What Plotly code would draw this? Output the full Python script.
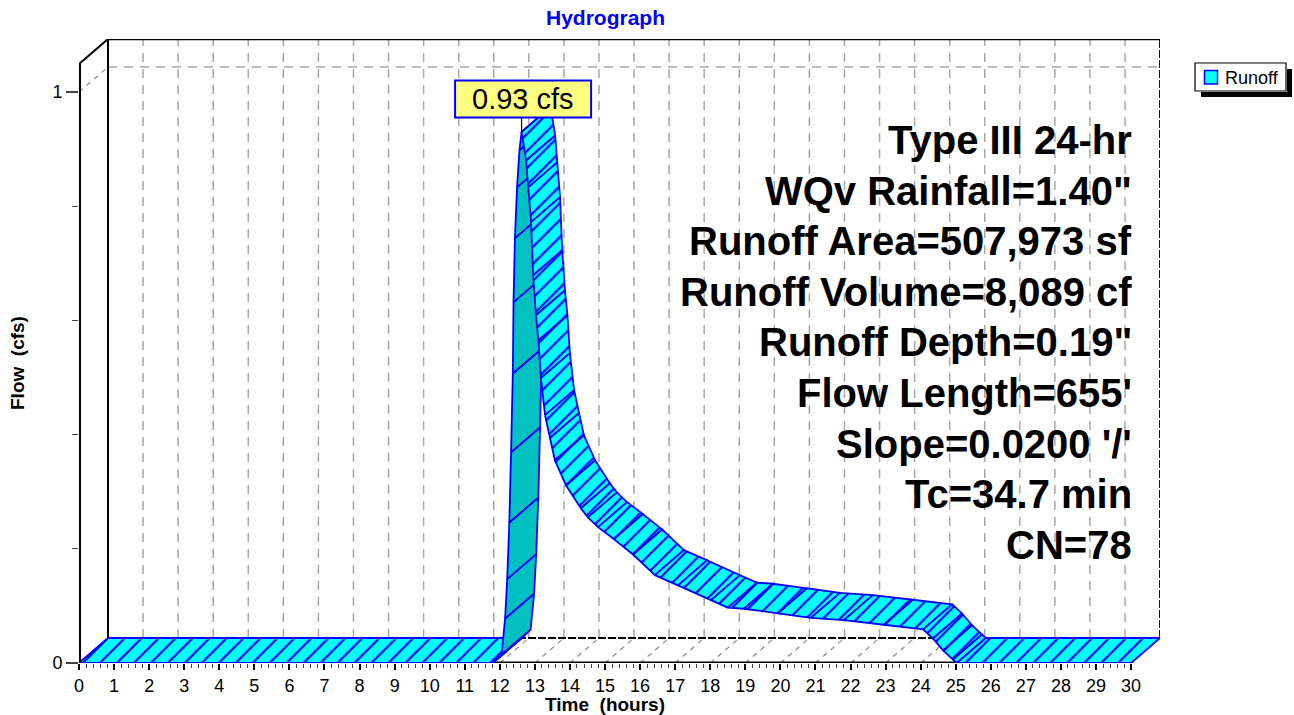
import plotly.graph_objects as go

# ---------------- data ----------------
time_hr = [0.0, 11.80, 12.05, 12.15, 12.21, 12.27, 12.32, 12.37, 12.39, 12.43, 12.49, 12.56, 12.62,
           12.75, 12.81, 12.89, 12.95, 13.03, 13.10, 13.17, 13.29, 13.43, 13.57, 13.89, 14.31,
           14.51, 14.80, 15.25, 15.80, 16.42, 17.08, 18.02, 18.50, 18.96, 19.93, 20.87, 21.81,
           22.95, 24.07, 24.35, 24.64, 24.92, 25.03, 30.0]
flow_cfs = [0.0, 0.0, 0.015, 0.078, 0.147, 0.246, 0.369, 0.507, 0.632, 0.744, 0.833, 0.898, 0.930,
            0.880, 0.833, 0.772, 0.679, 0.609, 0.565, 0.499, 0.434, 0.394, 0.355, 0.311, 0.271,
            0.255, 0.238, 0.217, 0.190, 0.154, 0.136, 0.110, 0.097, 0.095, 0.087, 0.079, 0.075,
            0.067, 0.059, 0.043, 0.022, 0.006, 0.0, 0.0]
x_ticks = list(range(0, 31))
y_ticks = [0, 1]
y_minor = [0.2, 0.4, 0.6, 0.8]
peak_label = "0.93 cfs"
series_name = "Runoff"
info_lines = ["Type III 24-hr", "WQv Rainfall=1.40\"", "Runoff Area=507,973 sf",
              "Runoff Volume=8,089 cf", "Runoff Depth=0.19\"", "Flow Length=655'",
              "Slope=0.0200 '/'", "Tc=34.7 min", "CN=78"]

# ---------------- geometry ----------------
W, H = 1294, 715
ML, MR, MT, MB = 79, 134, 39, 52
PW, PH = W - ML - MR, H - MT - MB
PX_HR = 35.07
PX_CFS = 571.0
XMAX = PW / PX_HR
YMAX = PH / PX_CFS
DX = 29 / PX_HR      # depth offset (hours)
DY = 25 / PX_CFS     # depth offset (cfs)
X_END = 30.0

FONT = "Arial, Liberation Sans, sans-serif"
CYAN = "#00FFFF"
DARK = "#00C0C0"
BLUE = "#0000FF"
GRID = "#A8A8A8"


def pxx(px):
    return (px - ML) / PW


def pxy(py):
    return (H - MB - py) / PH


fig = go.Figure()

# ---------------- ribbon ----------------
for i in range(len(time_hr) - 1):
    t0, t1 = time_hr[i], time_hr[i + 1]
    v0, v1 = flow_cfs[i], flow_cfs[i + 1]
    xs = [t0, t1, t1 + DX, t0 + DX, t0]
    ys = [v0, v1, v1 + DY, v0 + DY, v0]
    sx, sy = (t1 - t0) * PX_HR, -(v1 - v0) * PX_CFS
    cross = sx * (-25) - sy * 29
    if cross > 0:
        fig.add_trace(go.Scatter(x=xs, y=ys, mode="lines", fill="toself", fillcolor=DARK,
                                 line=dict(color=BLUE, width=1.8), hoverinfo="skip",
                                 showlegend=False))
    else:
        fig.add_trace(go.Scatter(x=xs, y=ys, mode="lines", fill="toself", fillcolor=CYAN,
                                 fillpattern=dict(shape="/", size=12, solidity=0.18,
                                                  fgcolor=BLUE, bgcolor=CYAN, fillmode="replace"),
                                 line=dict(color=BLUE, width=1.8), hoverinfo="skip",
                                 showlegend=False))

shapes = []
for h in x_ticks[1:-1]:
    shapes.append(dict(type="line", xref="x", yref="y", x0=h + DX, x1=h + DX, y0=DY, y1=YMAX,
                       line=dict(color=GRID, width=1.5, dash="9px,7px"), layer="below"))
for h in x_ticks[1:]:
    shapes.append(dict(type="line", xref="x", yref="y", x0=h, x1=h + DX, y0=0, y1=DY,
                       line=dict(color="#8C8C8C", width=1.2, dash="5px,5px"), layer="below"))
for yv in y_ticks[1:]:
    shapes.append(dict(type="line", xref="x", yref="y", x0=DX, x1=X_END + DX, y0=yv + DY, y1=yv + DY,
                       line=dict(color=GRID, width=1.5, dash="9px,7px"), layer="below"))
    shapes.append(dict(type="line", xref="x", yref="y", x0=0, x1=DX, y0=yv, y1=yv + DY,
                       line=dict(color="#8C8C8C", width=1.2, dash="5px,5px"), layer="below"))
# back frame
shapes.append(dict(type="line", xref="x", yref="y", x0=DX, x1=DX, y0=DY, y1=YMAX,
                   line=dict(color="black", width=2), layer="below"))
shapes.append(dict(type="line", xref="x", yref="y", x0=DX, x1=X_END + DX, y0=YMAX, y1=YMAX,
                   line=dict(color="black", width=2.5), layer="below"))
shapes.append(dict(type="line", xref="x", yref="y", x0=X_END + DX, x1=X_END + DX, y0=DY, y1=YMAX,
                   line=dict(color="black", width=2, dash="8px,2px"), layer="below"))
shapes.append(dict(type="line", xref="x", yref="y", x0=DX, x1=X_END + DX, y0=DY, y1=DY,
                   line=dict(color="black", width=2, dash="8px,2px"), layer="below"))
shapes.append(dict(type="line", xref="x", yref="y", x0=0, x1=DX, y0=YMAX - DY, y1=YMAX,
                   line=dict(color="black", width=2), layer="below"))
# front axes
shapes.append(dict(type="line", xref="x", yref="y", x0=0, x1=0, y0=0, y1=YMAX - DY,
                   line=dict(color="black", width=4), layer="above"))
shapes.append(dict(type="line", xref="x", yref="y", x0=0, x1=X_END, y0=0, y1=0,
                   line=dict(color="black", width=3), layer="below"))

# peak label
ipk = max(range(len(flow_cfs)), key=lambda k: flow_cfs[k])
tp, vp = time_hr[ipk], flow_cfs[ipk]
px_peak = ML + tp * PX_HR + 1.5
box_w, box_top, box_bot = 136, 80.5, 117.5
shapes.append(dict(type="line", xref="x", yref="y", x0=tp, x1=tp, y0=vp, y1=pxy(box_bot) * YMAX,
                   line=dict(color="black", width=1.2), layer="above"))
shapes.append(dict(type="rect", xref="paper", yref="paper",
                   x0=pxx(px_peak - box_w / 2), x1=pxx(px_peak + box_w / 2),
                   y0=pxy(box_bot), y1=pxy(box_top),
                   fillcolor="#FFFF80", line=dict(color=BLUE, width=2), layer="above"))

# legend box
shapes.append(dict(type="rect", xref="paper", yref="paper", x0=pxx(1195), x1=pxx(1286),
                   y0=pxy(91), y1=pxy(63), fillcolor="white", line=dict(color="black", width=1.2),
                   layer="above"))
shapes.append(dict(type="rect", xref="paper", yref="paper", x0=pxx(1204.5), x1=pxx(1217.5),
                   y0=pxy(84), y1=pxy(70.5), fillcolor=CYAN, line=dict(color=BLUE, width=1.5),
                   layer="above"))

annotations = []
# legend shadow strips (right and bottom) drawn as solid black annotation boxes
annotations.append(dict(xref="paper", yref="paper", x=pxx(1286.6), y=pxy(69), xanchor="left",
                        yanchor="top", text="", width=5, height=28, bgcolor="black",
                        borderpad=0, borderwidth=0, showarrow=False, font=dict(size=1)))
annotations.append(dict(xref="paper", yref="paper", x=pxx(1201), y=pxy(91.6), xanchor="left",
                        yanchor="top", text="", width=91, height=5, bgcolor="black",
                        borderpad=0, borderwidth=0, showarrow=False, font=dict(size=1)))
annotations.append(dict(xref="paper", yref="paper", x=pxx(px_peak), y=pxy((box_top + box_bot) / 2),
                        text=peak_label, showarrow=False, xanchor="center", yanchor="middle",
                        font=dict(family=FONT, size=29, color="black")))
annotations.append(dict(xref="paper", yref="paper", x=pxx(1223), y=pxy(77.5), text=series_name,
                        showarrow=False, xanchor="left", yanchor="middle",
                        font=dict(family=FONT, size=18, color="black")))
for k, line in enumerate(info_lines):
    annotations.append(dict(xref="paper", yref="paper", x=pxx(1134), y=pxy(140 + 50.6 * k),
                            text="<b>" + line + "</b>", showarrow=False, xanchor="right",
                            yanchor="middle", font=dict(family=FONT, size=40, color="black")))
annotations.append(dict(xref="paper", yref="paper", x=pxx(605), y=pxy(18), text="<b>Hydrograph</b>",
                        showarrow=False, xanchor="center", yanchor="middle",
                        font=dict(family=FONT, size=21, color=BLUE)))
annotations.append(dict(xref="paper", yref="paper", x=pxx(605), y=pxy(704),
                        text="<b>Time  (hours)</b>", showarrow=False, xanchor="center",
                        yanchor="middle", font=dict(family=FONT, size=19, color="black")))
annotations.append(dict(xref="paper", yref="paper", x=pxx(18), y=pxy(363),
                        text="<b>Flow  (cfs)</b>", showarrow=False, textangle=-90,
                        xanchor="center", yanchor="middle",
                        font=dict(family=FONT, size=19, color="black")))

minor_x = [i / 5 for i in range(0, 151) if i % 5 != 0]

fig.update_layout(
    width=W, height=H, margin=dict(l=ML, r=MR, t=MT, b=MB),
    paper_bgcolor="white", plot_bgcolor="white", showlegend=False,
    shapes=shapes, annotations=annotations,
    xaxis=dict(range=[0, XMAX], showgrid=False, zeroline=False, showline=False,
               tickmode="array", tickvals=x_ticks, ticktext=[str(v) for v in x_ticks],
               ticks="outside", ticklen=6, tickwidth=1.5, tickcolor="black",
               tickfont=dict(family=FONT, size=18, color="black"),
               minor=dict(tickmode="array", tickvals=minor_x, ticks="outside", ticklen=4,
                          tickwidth=1, tickcolor="#444444", showgrid=False),
               fixedrange=True),
    yaxis=dict(range=[0, YMAX], showgrid=False, zeroline=False, showline=False,
               tickmode="array", tickvals=y_ticks, ticktext=[str(v) for v in y_ticks],
               ticks="outside", ticklen=12, tickwidth=1.5, tickcolor="#444444",
               tickfont=dict(family=FONT, size=18, color="black"),
               minor=dict(tickmode="array", tickvals=y_minor, ticks="outside", ticklen=6,
                          tickwidth=1, tickcolor="#444444", showgrid=False),
               fixedrange=True),
)

fig.write_html("out.html", config={"displayModeBar": False},
               post_script="document.body.style.margin='0px';"
                           "document.body.style.overflow='hidden';")
